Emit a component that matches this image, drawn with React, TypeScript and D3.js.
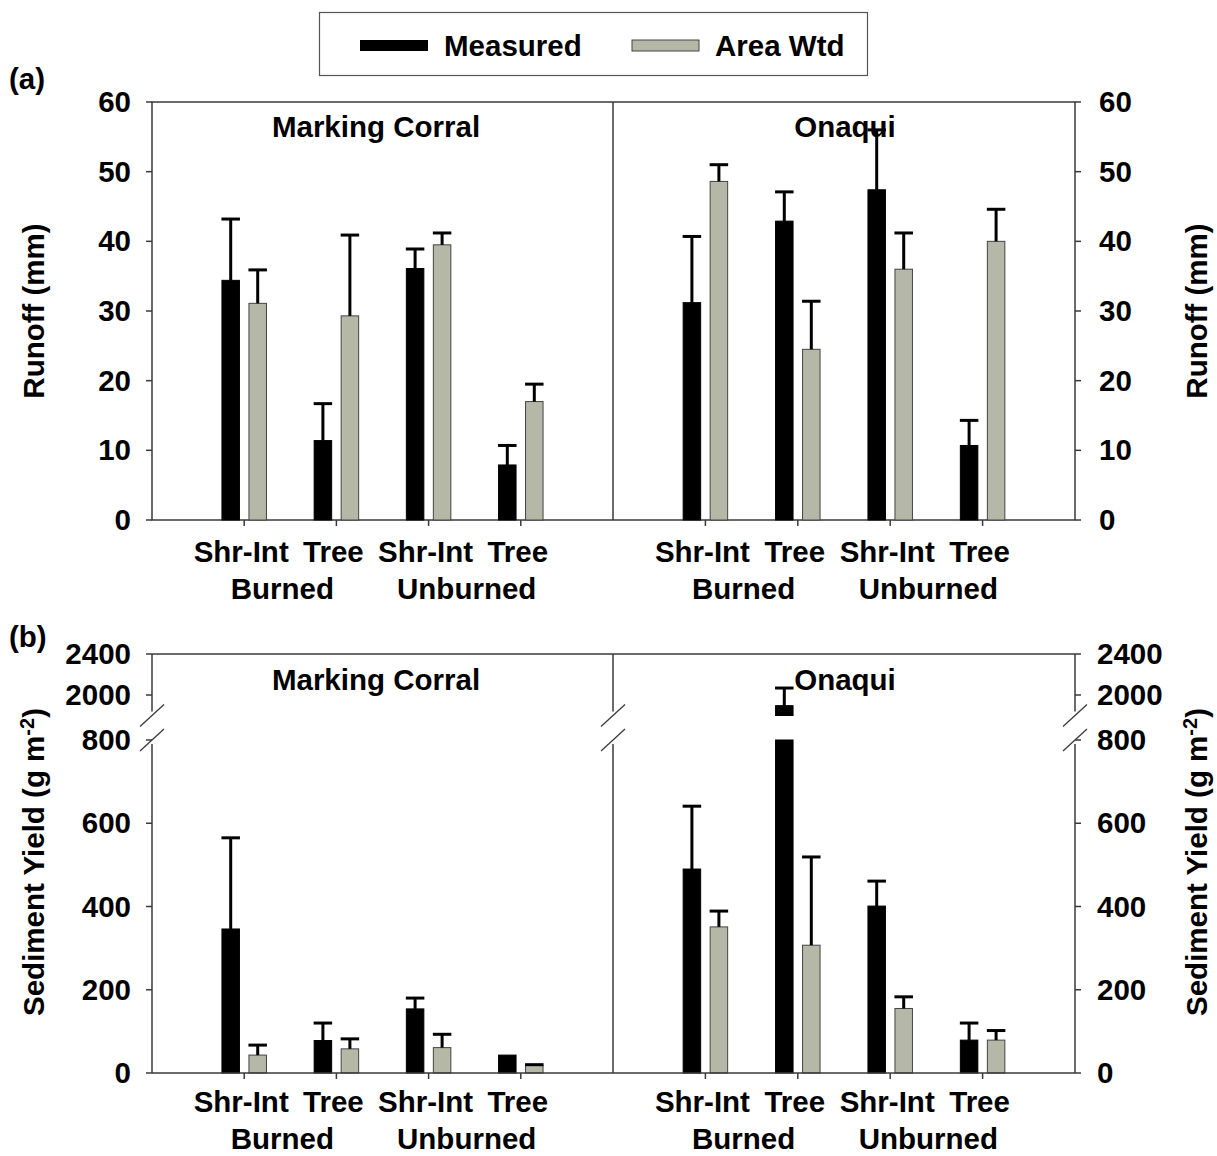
import { useEffect } from 'react';
import { scaleLinear, scalePoint } from 'd3';

const sites = ['Marking Corral', 'Onaqui'];
const categories = ['Shr-Int', 'Tree', 'Shr-Int', 'Tree'];
const groups = ['Burned', 'Unburned'];
const seriesNames = ['Measured', 'Area Wtd'];

// 8 values: Marking Corral (4) then Onaqui (4)
const runoffMeasured = [34.4, 11.4, 36.1, 7.9, 31.2, 42.9, 47.4, 10.7];
const runoffMeasuredSE = [8.8, 5.3, 2.8, 2.8, 9.5, 4.2, 8.6, 3.6];
const runoffAreaWtd = [31.1, 29.3, 39.5, 17.0, 48.6, 24.5, 36.0, 40.0];
const runoffAreaWtdSE = [4.8, 11.6, 1.7, 2.5, 2.4, 6.9, 5.2, 4.6];

const sedMeasured = [346, 78, 154, 43, 490, 1896, 401, 79];
const sedMeasuredSE = [219, 42, 26, 0, 151, 172, 60, 41];
const sedAreaWtd = [43, 58, 61, 18, 351, 307, 155, 79];
const sedAreaWtdSE = [24, 24, 32, 2, 38, 212, 28, 23];

const runoffTicks = [0, 10, 20, 30, 40, 50, 60];
const sedTicks = [0, 200, 400, 600, 800, 2000, 2400];

const FONT = '"Liberation Sans", Arial, sans-serif';
const FS = 29.5;
const GRAY = '#b5b7a7';
const LINE = '#3a3a3a';

const left = 152;
const mid = 613;
const right = 1075;
const barW = 17.5;
const barOff = 13.5;

const xLeft = scalePoint<number>().domain([0, 1, 2, 3]).range([left, mid]).padding(1);
const xRight = scalePoint<number>().domain([0, 1, 2, 3]).range([mid, right]).padding(1);
const xPos = (i: number) => (i < 4 ? xLeft(i)! : xRight(i - 4)!);

const yA = scaleLinear().domain([0, 60]).range([520, 102]);
// broken axis: 0-800 lower segment, 1800-2400 upper segment
const yB = scaleLinear().domain([0, 800, 1800, 2400]).range([1073, 740, 715.5, 654]);
const gapTop = 715.5;
const gapBot = 740;

const Bars = ({ vals, ses, y, fill, off }: any) => (
  <g>
    {vals.map((v: number, i: number) => {
      const cx = xPos(i) + off;
      const top = y(v);
      const capY = y(v + ses[i]);
      return (
        <g key={i}>
          <rect x={cx - barW / 2} y={top} width={barW} height={y(0) - top}
            fill={fill} stroke={fill === '#000' ? '#000' : '#444'} strokeWidth={1} />
          {ses[i] > 0 && (
            <g stroke="#000" strokeWidth={3}>
              <line x1={cx} x2={cx} y1={top} y2={capY} />
              <line x1={cx - barW / 2 - 0.5} x2={cx + barW / 2 + 0.5} y1={capY} y2={capY} />
            </g>
          )}
        </g>
      );
    })}
  </g>
);

const CatLabels = ({ base }: { base: number }) => (
  <g fontFamily={FONT} fontWeight="bold" fontSize={FS} fill="#000" textAnchor="middle">
    {[0, 1, 2, 3, 4, 5, 6, 7].map((i) => (
      <text key={i} x={xPos(i) - 3} y={base}>{categories[i % 4]}</text>
    ))}
    {[0, 1, 2, 3].map((g) => {
      const a = xPos(g * 2);
      const b = xPos(g * 2 + 1);
      return <text key={'g' + g} x={(a + b) / 2 - 8} y={base + 37}>{groups[g % 2]}</text>;
    })}
  </g>
);

const XTicks = ({ y0 }: { y0: number }) => (
  <g stroke={LINE} strokeWidth={1.5}>
    {[0, 1, 2, 3, 4, 5, 6, 7].map((i) => (
      <line key={i} x1={xPos(i)} x2={xPos(i)} y1={y0} y2={y0 + 6} />
    ))}
  </g>
);

const Slash = ({ x, y }: { x: number; y: number }) => (
  <line x1={x - 12} y1={y + 11} x2={x + 12} y2={y - 11} stroke={LINE} strokeWidth={1.3} />
);

export default function App() {
  useEffect(() => {
    document.body.style.margin = '0';
  }, []);

  return (
    <svg width={1217} height={1156} style={{ display: 'block', background: '#fff' }}>
      {/* legend */}
      <rect x={319.5} y={12.5} width={548} height={63} fill="#fff" stroke="#555" strokeWidth={1.2} />
      <rect x={360} y={40} width={68} height={11} fill="#000" />
      <rect x={632} y={40} width={67} height={11} fill={GRAY} stroke="#444" strokeWidth={1} />
      <g fontFamily={FONT} fontWeight="bold" fontSize={FS} fill="#000">
        <text x={444} y={56}>{seriesNames[0]}</text>
        <text x={715} y={56}>{seriesNames[1]}</text>
        <text x={9} y={89}>(a)</text>
        <text x={9} y={647}>(b)</text>
      </g>

      {/* panel a */}
      <g fill="none" stroke={LINE} strokeWidth={1.5}>
        <rect x={left} y={yA(60)} width={right - left} height={yA(0) - yA(60)} />
        <line x1={mid} x2={mid} y1={yA(60)} y2={yA(0)} />
        {runoffTicks.map((t) => (
          <g key={t}>
            <line x1={left - 6} x2={left} y1={yA(t)} y2={yA(t)} />
            <line x1={right} x2={right + 6} y1={yA(t)} y2={yA(t)} />
          </g>
        ))}
      </g>
      <XTicks y0={yA(0)} />
      <g fontFamily={FONT} fontWeight="bold" fontSize={FS} fill="#000">
        {runoffTicks.map((t) => (
          <g key={t}>
            <text x={131} y={yA(t) + 10} textAnchor="end">{t}</text>
            <text x={1099} y={yA(t) + 10}>{t}</text>
          </g>
        ))}
        <text transform={`translate(44,311) rotate(-90)`} textAnchor="middle">Runoff (mm)</text>
        <text transform={`translate(1207,311) rotate(-90)`} textAnchor="middle">Runoff (mm)</text>
      </g>
      <Bars vals={runoffMeasured} ses={runoffMeasuredSE} y={yA} fill="#000" off={-barOff} />
      <Bars vals={runoffAreaWtd} ses={runoffAreaWtdSE} y={yA} fill={GRAY} off={barOff} />
      <g fontFamily={FONT} fontWeight="bold" fontSize={FS} fill="#000" textAnchor="middle">
        <text x={376} y={137}>{sites[0]}</text>
        <text x={845} y={137}>{sites[1]}</text>
      </g>
      <CatLabels base={562} />

      {/* panel b */}
      <Bars vals={sedMeasured} ses={sedMeasuredSE} y={yB} fill="#000" off={-barOff} />
      <Bars vals={sedAreaWtd} ses={sedAreaWtdSE} y={yB} fill={GRAY} off={barOff} />
      <rect x={left - 14} y={gapTop + 0.5} width={right - left + 28} height={gapBot - gapTop - 1} fill="#fff" />
      <g fill="none" stroke={LINE} strokeWidth={1.5}>
        <line x1={left} x2={right} y1={yB(2400)} y2={yB(2400)} />
        <line x1={left} x2={right} y1={yB(0)} y2={yB(0)} />
        {[left, mid, right].map((x) => (
          <g key={x}>
            <line x1={x} x2={x} y1={yB(2400)} y2={gapTop - 4} />
            <line x1={x} x2={x} y1={gapBot + 4} y2={yB(0)} />
          </g>
        ))}
        {sedTicks.map((t) => (
          <g key={t}>
            <line x1={left - 6} x2={left} y1={yB(t)} y2={yB(t)} />
            <line x1={right} x2={right + 6} y1={yB(t)} y2={yB(t)} />
          </g>
        ))}
      </g>
      {[left, mid, right].map((x) => (
        <g key={'s' + x}>
          <Slash x={x} y={gapTop} />
          <Slash x={x} y={gapBot} />
        </g>
      ))}
      <XTicks y0={yB(0)} />
      <g fontFamily={FONT} fontWeight="bold" fontSize={FS} fill="#000">
        {sedTicks.map((t) => (
          <g key={t}>
            <text x={131} y={yB(t) + 10} textAnchor="end">{t}</text>
            <text x={1097} y={yB(t) + 10}>{t}</text>
          </g>
        ))}
        <text transform={`translate(44,862) rotate(-90)`} textAnchor="middle">
          Sediment Yield (g m<tspan dy={-10} fontSize={20}>-2</tspan><tspan dy={10}>)</tspan>
        </text>
        <text transform={`translate(1207,862) rotate(-90)`} textAnchor="middle">
          Sediment Yield (g m<tspan dy={-10} fontSize={20}>-2</tspan><tspan dy={10}>)</tspan>
        </text>
      </g>
      <g fontFamily={FONT} fontWeight="bold" fontSize={FS} fill="#000" textAnchor="middle">
        <text x={376} y={690}>{sites[0]}</text>
        <text x={845} y={690}>{sites[1]}</text>
      </g>
      <CatLabels base={1112} />
    </svg>
  );
}
